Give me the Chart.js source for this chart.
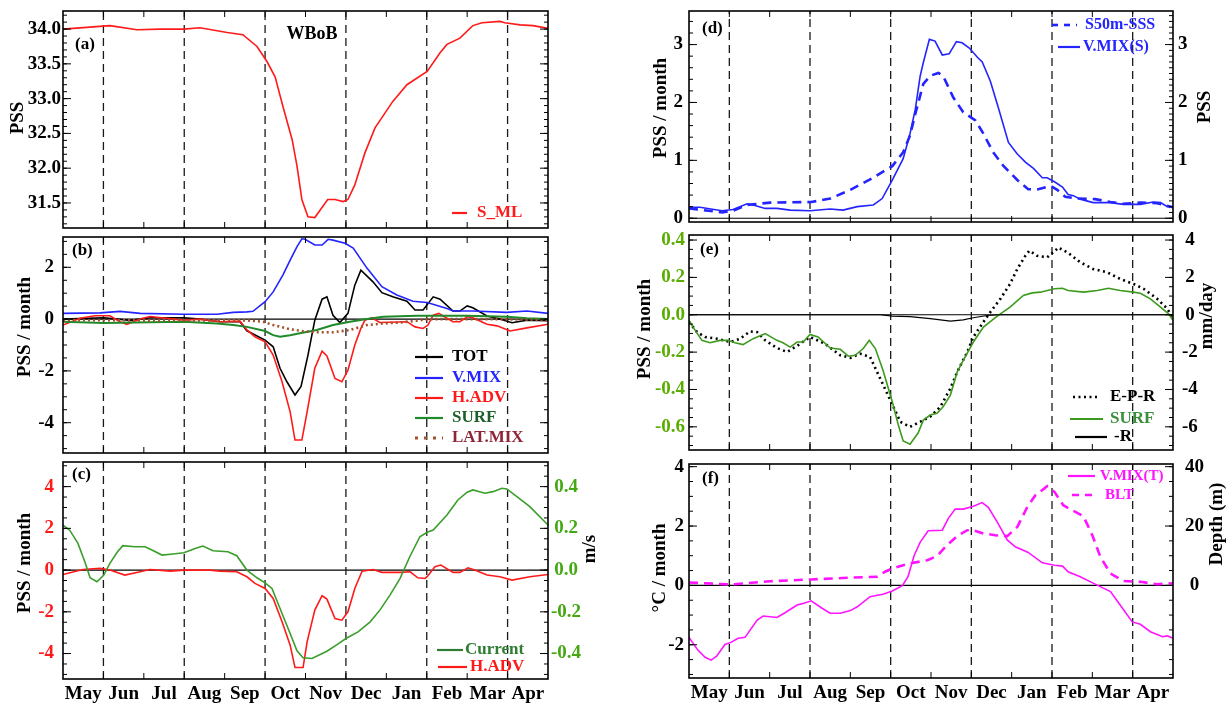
<!DOCTYPE html>
<html><head><meta charset="utf-8">
<script src="https://cdn.jsdelivr.net/npm/chart.js@4/dist/chart.umd.min.js"></script>
<style>
html,body{margin:0;padding:0;background:#fff;}
body{width:1227px;height:705px;position:relative;overflow:hidden;}
canvas{position:absolute;}
</style></head><body>
<script>
// ---------------- DATA ----------------
const MONTHS = ['May','Jun','Jul','Aug','Sep','Oct','Nov','Dec','Jan','Feb','Mar','Apr'];
const MONTH_TICKS = [0.5,1.5,2.5,3.5,4.5,5.5,6.5,7.5,8.5,9.5,10.5,11.5];
const DASH_MONTHS = [1,3,5,7,9,11];

// (a) mixed-layer salinity, [month, PSS]
const aSML = [[0,34.00],[1.16,34.05],[1.83,33.99],[2.40,34.00],[2.99,34.00],[3.39,34.02],[4.06,33.95],[4.45,33.92],[4.80,33.75],[5.05,33.53],[5.25,33.31],[5.44,32.89],[5.67,32.41],[5.79,32.03],[5.91,31.55],[6.06,31.30],[6.23,31.29],[6.55,31.55],[6.73,31.55],[6.93,31.52],[7.05,31.55],[7.22,31.76],[7.47,32.22],[7.72,32.58],[8.16,32.96],[8.51,33.20],[9.01,33.39],[9.33,33.66],[9.50,33.78],[9.82,33.87],[10.14,34.05],[10.37,34.09],[10.81,34.11],[10.93,34.09],[11.31,34.06],[11.63,34.05],[12,34.01]];

// (b) budget terms, PSS/month
const bTOT = [[0,0.0],[1.01,0.05],[1.66,-0.05],[2.15,0.05],[2.99,0.05],[3.39,0.0],[3.88,-0.1],[4.38,-0.1],[4.55,-0.45],[5.00,-0.81],[5.20,-1.07],[5.37,-1.9],[5.54,-2.42],[5.74,-2.93],[5.89,-2.6],[6.06,-1.4],[6.23,-0.04],[6.41,0.77],[6.53,0.86],[6.68,0.15],[6.85,-0.13],[7.05,0.22],[7.22,1.31],[7.37,1.89],[7.67,1.44],[7.89,1.02],[8.16,0.86],[8.51,0.69],[8.71,0.35],[8.91,0.35],[9.16,0.86],[9.33,0.77],[9.65,0.31],[9.82,0.31],[10.0,0.51],[10.14,0.44],[10.49,0.12],[10.81,0.0],[11.11,-0.14],[11.48,-0.04],[12,-0.06]];
const bVMIX = [[0,0.22],[0.92,0.24],[1.41,0.30],[1.91,0.22],[2.99,0.19],[3.81,0.19],[4.21,0.26],[4.55,0.28],[4.70,0.30],[5.00,0.67],[5.20,1.05],[5.44,1.70],[5.62,2.28],[5.79,2.80],[5.91,3.10],[5.99,3.08],[6.23,2.86],[6.41,2.86],[6.56,3.08],[6.68,3.05],[6.98,2.93],[7.18,2.74],[7.52,1.97],[7.89,1.25],[8.26,0.93],[8.66,0.69],[9.01,0.64],[9.50,0.41],[9.65,0.31],[10.14,0.31],[10.98,0.26],[11.48,0.31],[12,0.22]];
const bHADV = [[0,-0.23],[0.42,0.03],[0.79,0.13],[1.16,0.13],[1.41,-0.1],[1.58,-0.2],[1.91,0.0],[2.15,0.1],[2.99,-0.04],[3.39,0.0],[3.88,-0.1],[4.38,-0.08],[4.55,-0.42],[4.75,-0.68],[5.00,-0.88],[5.20,-1.39],[5.42,-2.42],[5.62,-3.58],[5.74,-4.67],[5.91,-4.67],[6.04,-3.58],[6.23,-1.9],[6.41,-1.24],[6.53,-1.42],[6.73,-2.29],[6.90,-2.42],[7.05,-1.97],[7.22,-1.0],[7.37,-0.36],[7.47,-0.04],[7.64,0.05],[7.84,-0.13],[8.51,-0.1],[8.71,-0.3],[8.91,-0.36],[9.03,-0.23],[9.16,0.15],[9.30,0.22],[9.50,0.03],[9.65,-0.1],[9.82,-0.1],[10.0,0.09],[10.14,0.05],[10.49,-0.2],[10.74,-0.26],[11.06,-0.46],[11.48,-0.34],[12,-0.2]];
const bSURF = [[0,-0.1],[1.01,-0.15],[2.15,-0.12],[2.99,-0.1],[3.81,-0.17],[4.21,-0.23],[4.55,-0.3],[5.00,-0.46],[5.20,-0.62],[5.37,-0.68],[5.62,-0.62],[5.86,-0.55],[6.28,-0.42],[6.68,-0.23],[7.10,-0.1],[7.52,0.0],[7.92,0.09],[8.76,0.13],[10.0,0.13],[10.98,0.09],[11.48,0.03],[12,0.0]];
const bLATMIX = [[0,-0.04],[2.15,-0.05],[4.55,-0.05],[4.95,-0.1],[5.20,-0.23],[5.62,-0.39],[5.94,-0.47],[6.36,-0.51],[6.68,-0.51],[7.10,-0.42],[7.52,-0.23],[7.92,-0.17],[8.34,-0.13],[8.76,-0.06],[9.01,0.0],[10.81,0.0],[12,-0.04]];

// (c) horizontal advection (PSS/month) and current (m/s)
const cHADV = [[0,-0.21],[0.49,0.03],[0.92,0.08],[1.16,0.0],[1.53,-0.24],[1.91,-0.08],[2.15,0.03],[2.65,-0.05],[2.99,0.0],[3.64,0.0],[3.88,-0.05],[4.30,-0.08],[4.55,-0.32],[4.75,-0.64],[5.00,-0.88],[5.20,-1.36],[5.42,-2.48],[5.62,-3.6],[5.74,-4.67],[5.94,-4.67],[6.04,-3.44],[6.23,-1.92],[6.41,-1.23],[6.53,-1.39],[6.73,-2.32],[6.90,-2.4],[7.05,-2.0],[7.22,-0.88],[7.40,-0.05],[7.67,0.03],[7.89,-0.11],[8.34,-0.11],[8.59,-0.08],[8.78,-0.37],[8.96,-0.4],[9.03,-0.27],[9.20,0.16],[9.35,0.24],[9.65,-0.11],[9.82,-0.11],[10.02,0.11],[10.19,0.0],[10.49,-0.24],[10.81,-0.32],[11.11,-0.48],[11.55,-0.32],[12,-0.21]];
const cCurrent = [[0,0.216],[0.17,0.19],[0.37,0.128],[0.54,0.04],[0.67,-0.037],[0.84,-0.056],[1.01,-0.024],[1.16,0.032],[1.34,0.085],[1.48,0.117],[1.78,0.112],[2.03,0.112],[2.20,0.096],[2.45,0.072],[2.72,0.077],[2.99,0.083],[3.27,0.104],[3.46,0.115],[3.71,0.093],[4.08,0.088],[4.30,0.069],[4.55,0.0],[4.80,-0.037],[5.00,-0.061],[5.17,-0.088],[5.37,-0.184],[5.62,-0.304],[5.79,-0.387],[5.94,-0.42],[6.16,-0.424],[6.53,-0.389],[6.78,-0.357],[7.00,-0.328],[7.30,-0.296],[7.60,-0.248],[7.84,-0.192],[8.09,-0.12],[8.34,-0.04],[8.58,0.064],[8.83,0.16],[9.01,0.181],[9.16,0.192],[9.50,0.264],[9.77,0.336],[10.0,0.373],[10.14,0.384],[10.44,0.368],[10.64,0.376],[10.86,0.392],[10.98,0.389],[11.23,0.352],[11.55,0.304],[12,0.216]];

// (d) vertical mixing (PSS/month) and S50m-SSS (PSS)
const dVMIX = [[0,0.19],[0.27,0.19],[0.82,0.13],[1.09,0.15],[1.44,0.25],[1.59,0.23],[1.89,0.17],[2.18,0.17],[2.51,0.14],[3.00,0.13],[3.50,0.16],[3.82,0.14],[4.17,0.20],[4.57,0.23],[4.79,0.34],[5.04,0.66],[5.31,1.03],[5.48,1.46],[5.61,1.88],[5.73,2.45],[5.81,2.69],[5.96,3.09],[6.10,3.06],[6.28,2.82],[6.45,2.84],[6.63,3.05],[6.77,3.03],[6.95,2.94],[7.15,2.78],[7.27,2.70],[7.47,2.37],[7.67,1.91],[7.92,1.31],[8.14,1.11],[8.34,0.97],[8.54,0.86],[8.76,0.70],[8.88,0.70],[9.06,0.63],[9.26,0.54],[9.40,0.41],[9.53,0.39],[9.70,0.33],[10.02,0.27],[10.45,0.27],[10.77,0.24],[11.19,0.24],[11.51,0.28],[11.69,0.27],[11.86,0.20],[12,0.19]];
const dS50 = [[0,0.17],[0.82,0.10],[1.09,0.13],[1.44,0.23],[2.01,0.27],[3.03,0.28],[3.50,0.34],[4.00,0.49],[4.49,0.67],[5.04,0.90],[5.31,1.14],[5.48,1.43],[5.61,1.80],[5.81,2.32],[5.98,2.46],[6.18,2.51],[6.30,2.46],[6.55,2.09],[6.80,1.83],[7.10,1.69],[7.30,1.46],[7.54,1.14],[7.79,0.91],[8.14,0.66],[8.41,0.50],[8.66,0.50],[8.96,0.56],[9.13,0.49],[9.33,0.37],[9.63,0.34],[10.07,0.33],[10.45,0.28],[10.77,0.25],[11.19,0.27],[11.61,0.26],[12,0.19]];

// (e) surface flux term (PSS/month), E-P-R and -R (mm/day)
const eSURF = [[0,-0.03],[0.10,-0.066],[0.32,-0.137],[0.52,-0.15],[0.77,-0.137],[0.97,-0.137],[1.14,-0.15],[1.34,-0.16],[1.59,-0.128],[1.89,-0.101],[2.18,-0.137],[2.33,-0.15],[2.51,-0.173],[2.68,-0.146],[2.83,-0.146],[3.00,-0.105],[3.20,-0.119],[3.50,-0.178],[3.75,-0.185],[3.95,-0.222],[4.12,-0.217],[4.32,-0.181],[4.47,-0.137],[4.62,-0.181],[4.81,-0.297],[5.04,-0.466],[5.19,-0.59],[5.31,-0.676],[5.48,-0.693],[5.68,-0.633],[5.81,-0.564],[5.98,-0.537],[6.15,-0.528],[6.30,-0.493],[6.48,-0.43],[6.65,-0.306],[6.80,-0.244],[7.05,-0.146],[7.30,-0.066],[7.54,-0.025],[7.72,0.005],[7.96,0.041],[8.29,0.103],[8.51,0.117],[8.71,0.121],[9.06,0.139],[9.26,0.142],[9.40,0.13],[9.78,0.121],[10.12,0.13],[10.40,0.142],[10.69,0.13],[11.02,0.121],[11.19,0.115],[11.44,0.085],[11.69,0.041],[11.89,0.005],[12,-0.03]];
const eEPR = [[0,-0.39],[0.20,-0.93],[0.40,-1.19],[0.69,-1.28],[1.02,-1.46],[1.27,-1.28],[1.51,-0.89],[1.69,-0.93],[1.89,-1.37],[2.18,-1.78],[2.43,-1.99],[2.68,-1.67],[3.00,-1.19],[3.37,-1.55],[3.75,-2.17],[4.00,-2.31],[4.24,-2.08],[4.49,-2.26],[4.74,-3.41],[4.99,-4.57],[5.24,-5.73],[5.48,-6.0],[5.73,-5.73],[5.98,-5.46],[6.23,-4.93],[6.48,-3.95],[6.65,-3.06],[6.90,-1.99],[7.05,-1.19],[7.27,-0.48],[7.47,0.14],[7.72,0.85],[7.96,1.65],[8.14,2.45],[8.34,3.16],[8.44,3.43],[8.63,3.16],[8.88,3.07],[9.08,3.43],[9.16,3.6],[9.40,3.31],[9.70,2.81],[10.02,2.45],[10.37,2.27],[10.69,1.92],[11.02,1.65],[11.27,1.39],[11.61,0.85],[11.86,0.32],[12,-0.21]];
const eR = [[0,0],[4.74,0],[5.04,-0.07],[5.48,-0.1],[5.98,-0.21],[6.48,-0.34],[6.80,-0.27],[7.05,-0.16],[7.39,-0.04],[7.72,0],[12,0]];

// (f) vertical mixing of temperature (degC/month) and barrier layer thickness (m)
const fVMIXT = [[0,-1.75],[0.22,-2.18],[0.40,-2.42],[0.55,-2.52],[0.69,-2.38],[0.89,-1.99],[1.04,-1.92],[1.22,-1.78],[1.39,-1.75],[1.69,-1.17],[1.84,-1.03],[2.18,-1.08],[2.38,-0.92],[2.68,-0.66],[2.83,-0.61],[3.03,-0.52],[3.30,-0.77],[3.50,-0.94],[3.75,-0.94],[4.00,-0.85],[4.17,-0.72],[4.49,-0.38],[4.67,-0.33],[4.81,-0.3],[5.04,-0.19],[5.29,-0.01],[5.43,0.29],[5.58,1.0],[5.73,1.45],[5.93,1.84],[6.28,1.86],[6.43,2.26],[6.60,2.57],[6.80,2.57],[7.05,2.67],[7.27,2.79],[7.42,2.63],[7.64,2.14],[7.89,1.53],[8.09,1.3],[8.41,1.11],[8.76,0.76],[9.06,0.68],[9.26,0.65],[9.40,0.46],[9.70,0.29],[10.12,0.01],[10.45,-0.21],[10.69,-0.66],[10.99,-1.23],[11.19,-1.31],[11.44,-1.56],[11.74,-1.73],[11.86,-1.7],[12,-1.78]];
const fBLT = [[0,1.0],[1.02,0.3],[2.01,1.4],[3.03,2.0],[4.00,2.6],[4.67,2.9],[4.86,4.6],[5.04,5.7],[5.48,7.4],[5.91,8.5],[6.15,9.9],[6.40,13.6],[6.65,16.6],[6.90,18.6],[7.05,18.6],[7.30,17.5],[7.59,16.9],[7.89,16.6],[8.14,19.7],[8.39,26.5],[8.59,30.4],[8.88,33.4],[9.06,31.5],[9.28,27.0],[9.53,25.1],[9.78,23.3],[10.0,16.9],[10.20,9.6],[10.45,4.0],[10.77,1.5],[11.19,1.2],[11.61,0.4],[12,0.7]];

// tick label values
const aTicks = [31.5,32.0,32.5,33.0,33.5,34.0];
const bTicks = [-4,-2,0,2];
const cTicks = [-4,-2,0,2,4];
const cTicks2 = [-0.4,-0.2,0,0.2,0.4];
const dTicks = [0,1,2,3];
const eTicks = [-0.6,-0.4,-0.2,0,0.2,0.4];
const eTicks2 = [-6,-4,-2,0,2,4];
const fTicks = [-2,0,2,4];
const fTicks2 = [0,20,40];

// ---------------- STYLE ----------------
const FONT = '"Liberation Serif","Times New Roman",serif';
const fnt = s => ({family: FONT, size: s, weight: 'bold'});
const RED = '#ff1a1a', BLUE = '#2424ff', MAG = '#ff14ff';

function ser(pairs, axis, style) {
  return Object.assign({data: pairs.map(p => ({x: p[0], y: p[1]})), yAxisID: axis,
    pointRadius: 0, tension: 0, fill: false, borderWidth: 1.6, borderCapStyle: 'butt'}, style);
}

const idlPlugin = {
  id: 'idl',
  beforeDatasetsDraw(chart, args, o) {
    const {ctx, chartArea: ca} = chart;
    const xs = chart.scales.x, ys = chart.scales.y;
    ctx.save();
    ctx.beginPath(); ctx.rect(ca.left, ca.top, ca.width, ca.height); ctx.clip();
    if (o.zero) {
      const y = ys.getPixelForValue(0);
      ctx.strokeStyle = '#000'; ctx.lineWidth = 1.2;
      ctx.beginPath(); ctx.moveTo(ca.left, y); ctx.lineTo(ca.right, y); ctx.stroke();
    }
    ctx.strokeStyle = '#1a1a1a'; ctx.lineWidth = 1.3; ctx.setLineDash([8, 5]);
    DASH_MONTHS.forEach(m => {
      const x = xs.getPixelForValue(m);
      ctx.beginPath(); ctx.moveTo(x, ca.bottom); ctx.lineTo(x, ca.top); ctx.stroke();
    });
    ctx.restore();
  },
  afterDatasetsDraw(chart, args, o) {
    const {ctx, chartArea: ca} = chart;
    const xs = chart.scales.x, ys = chart.scales.y, y2 = chart.scales.y2;
    const ox = o.ox, oy = o.oy;
    ctx.save();
    ctx.strokeStyle = '#000'; ctx.lineWidth = 1;
    const seg = (a, b, c, d) => { ctx.beginPath(); ctx.moveTo(a, b); ctx.lineTo(c, d); ctx.stroke(); };
    for (let m = 1; m < 12; m++) {
      const x = xs.getPixelForValue(m);
      seg(x, ca.bottom, x, ca.bottom - 6); seg(x, ca.top, x, ca.top + 6);
    }
    const yTicks = (scale, minor, side) => {
      const x0 = side === 'l' ? ca.left : ca.right, dir = side === 'l' ? 1 : -1;
      const k0 = Math.ceil(scale.min / minor - 1e-6), k1 = Math.floor(scale.max / minor + 1e-6);
      for (let k = k0; k <= k1; k++) { const y = scale.getPixelForValue(k * minor); seg(x0, y, x0 + dir * 4, y); }
      scale.ticks.forEach(t => { const y = scale.getPixelForValue(t.value); seg(x0, y, x0 + dir * 8, y); });
    };
    yTicks(ys, o.minor, 'l');
    if (y2) yTicks(y2, o.minor2, 'r'); else yTicks(ys, o.minor, 'r');
    ctx.lineWidth = 1.6;
    ctx.strokeRect(ca.left, ca.top, ca.width, ca.height);
    const txt = t => {
      ctx.save();
      ctx.font = `bold ${t.size || 17}px ${FONT}`;
      ctx.fillStyle = t.color || '#000';
      ctx.textAlign = t.align || 'left';
      ctx.textBaseline = 'middle';
      ctx.translate(t.x - ox, t.y - oy);
      if (t.rot) ctx.rotate(t.rot * Math.PI / 180);
      ctx.fillText(t.text, 0, 0);
      ctx.restore();
    };
    (o.texts || []).forEach(txt);
    (o.legend || []).forEach(l => {
      ctx.save();
      ctx.strokeStyle = l.color; ctx.lineWidth = l.lw || 2.2; ctx.setLineDash(l.dash || []);
      seg(l.x1 - ox, l.y - oy, l.x2 - ox, l.y - oy);
      ctx.restore();
      txt({text: l.text, x: l.tx, y: l.y, color: l.tcolor || l.color, size: l.size || 17});
    });
    ctx.restore();
  }
};

function yAxis(pos, min, max, ticks, fmt, width, pad, color, align) {
  return {
    type: 'linear', position: pos, min, max, display: true,
    afterBuildTicks: s => { s.ticks = ticks.map(v => ({value: v})); },
    ticks: {autoSkip: false, font: fnt(19), color, padding: pad, crossAlign: align || 'near', callback: v => fmt(v)},
    grid: {display: false, drawTicks: false}, border: {display: false},
    afterFit: s => { s.width = width; s.paddingTop = 0; s.paddingBottom = 0; }
  };
}
function xAxis(show, height) {
  const ax = {type: 'linear', min: 0, max: 12, display: show,
    grid: {display: false, drawTicks: false}, border: {display: false}};
  if (show) {
    ax.afterBuildTicks = s => { s.ticks = MONTH_TICKS.map(v => ({value: v})); };
    ax.ticks = {autoSkip: false, maxRotation: 0, minRotation: 0, font: fnt(19), color: '#000', padding: 4,
      callback: (v, i) => MONTHS[i]};
    ax.afterFit = s => { s.height = height; s.paddingLeft = 0; s.paddingRight = 0; };
  }
  return ax;
}
function makeChart(g, scales, datasets, opts) {
  const cv = document.createElement('canvas');
  cv.width = g.w; cv.height = g.h;
  cv.style.left = g.x + 'px'; cv.style.top = g.y + 'px';
  cv.style.width = g.w + 'px'; cv.style.height = g.h + 'px';
  document.body.appendChild(cv);
  opts.ox = g.x; opts.oy = g.y;
  return new Chart(cv, {
    type: 'line',
    data: {datasets},
    options: {responsive: false, animation: false, events: [],
      layout: {padding: g.pad},
      plugins: {legend: {display: false}, tooltip: {enabled: false}, idl: opts},
      scales},
    plugins: [idlPlugin]
  });
}
const f1 = v => v.toFixed(1), f0 = v => String(v);

// (a)
makeChart({x: 0, y: 0, w: 615, h: 232, pad: {top: 11, bottom: 4, left: 0, right: 67}},
  {x: xAxis(false), y: yAxis('left', 31.14, 34.26, aTicks, f1, 63, 2, '#000')},
  [ser(aSML, 'y', {borderColor: RED})],
  {minor: 0.1, zero: false,
   texts: [{text: '(a)', x: 75, y: 45}, {text: 'WBoB', x: 312, y: 34, align: 'center', size: 18},
           {text: 'PSS', x: 18, y: 118, rot: -90, align: 'center', size: 19}],
   legend: [{text: 'S_ML', color: RED, x1: 452, x2: 467, y: 213, tx: 477}]});

// (b)
makeChart({x: 0, y: 230, w: 615, h: 226, pad: {top: 7, bottom: 3, left: 0, right: 67}},
  {x: xAxis(false), y: yAxis('left', -5.17, 3.17, bTicks, f0, 63, 9, '#000')},
  [ser(bLATMIX, 'y', {borderColor: '#a4502a', borderWidth: 2.6, borderDash: [2, 3]}),
   ser(bSURF, 'y', {borderColor: '#1f8a2a', borderWidth: 2}),
   ser(bHADV, 'y', {borderColor: RED}),
   ser(bVMIX, 'y', {borderColor: BLUE}),
   ser(bTOT, 'y', {borderColor: '#000'})],
  {minor: 0.5, zero: true,
   texts: [{text: '(b)', x: 72, y: 251}, {text: 'PSS / month', x: 25, y: 327, rot: -90, align: 'center', size: 19}],
   legend: [
     {text: 'TOT', color: '#000', x1: 415, x2: 443, y: 357, tx: 452},
     {text: 'V.MIX', color: BLUE, x1: 415, x2: 443, y: 378, tx: 452},
     {text: 'H.ADV', color: RED, x1: 415, x2: 443, y: 398, tx: 452},
     {text: 'SURF', color: '#1f8a2a', tcolor: '#1d5e2c', x1: 415, x2: 443, y: 418, tx: 452},
     {text: 'LAT.MIX', color: '#a4502a', tcolor: '#8e2536', lw: 2.8, dash: [3, 6], x1: 415, x2: 443, y: 438, tx: 452}]});

// (c)
makeChart({x: 0, y: 456, w: 615, h: 249, pad: {top: 6, bottom: 0, left: 0, right: 0}},
  {x: xAxis(true, 26),
   y: yAxis('left', -5.22, 5.18, cTicks, f0, 63, 9, '#ff1a1a'),
   y2: yAxis('right', -0.522, 0.518, cTicks2, f1, 67, 3, '#44a812', 'center')},
  [ser(cCurrent, 'y2', {borderColor: '#3a9e2a'}),
   ser(cHADV, 'y', {borderColor: RED})],
  {minor: 0.5, minor2: 0.05, zero: true,
   texts: [{text: '(c)', x: 72, y: 475},
           {text: 'PSS / month', x: 25, y: 563, rot: -90, align: 'center', size: 19},
           {text: 'm/s', x: 590, y: 549, rot: -90, align: 'center', size: 19}],
   legend: [
     {text: 'Current', color: '#2e7d32', x1: 437, x2: 463, y: 650, tx: 465},
     {text: 'H.ADV', color: RED, x1: 438, x2: 467, y: 667, tx: 470}]});

// (d)
makeChart({x: 615, y: 0, w: 612, h: 228, pad: {top: 11, bottom: 6, left: 0, right: 0}},
  {x: xAxis(false),
   y: yAxis('left', -0.065, 3.58, dTicks, f0, 74, 6, '#000'),
   y2: yAxis('right', -0.065, 3.58, dTicks, f0, 54, 5, '#000', 'near')},
  [ser(dS50, 'y2', {borderColor: BLUE, borderWidth: 2.6, borderDash: [9, 6]}),
   ser(dVMIX, 'y', {borderColor: BLUE})],
  {minor: 0.2, minor2: 0.1, zero: true,
   texts: [{text: '(d)', x: 702, y: 29},
           {text: 'PSS / month', x: 661, y: 108, rot: -90, align: 'center', size: 19},
           {text: 'PSS', x: 1205, y: 107, rot: -90, align: 'center', size: 19}],
   legend: [
     {text: 'S50m-SSS', color: BLUE, lw: 2.6, dash: [6, 6], x1: 1052, x2: 1077, y: 25, tx: 1085, size: 16},
     {text: 'V.MIX(S)', color: BLUE, x1: 1058, x2: 1080, y: 47, tx: 1083, size: 16}]});

// (e)
makeChart({x: 615, y: 228, w: 612, h: 225, pad: {top: 7, bottom: 3, left: 0, right: 0}},
  {x: xAxis(false),
   y: yAxis('left', -0.724, 0.427, eTicks, f1, 74, 4, '#58ad00'),
   y2: yAxis('right', -7.24, 4.27, eTicks2, f0, 54, 9, '#000', 'center')},
  [ser(eR, 'y2', {borderColor: '#000', borderWidth: 1.2}),
   ser(eSURF, 'y', {borderColor: '#3c9a1c'}),
   ser(eEPR, 'y2', {borderColor: '#000', borderWidth: 2.6, borderDash: [2, 3.5]})],
  {minor: 0.05, minor2: 0.5, zero: true,
   texts: [{text: '(e)', x: 700, y: 250},
           {text: 'PSS / month', x: 645, y: 329, rot: -90, align: 'center', size: 19},
           {text: 'mm/day', x: 1207, y: 316, rot: -90, align: 'center', size: 19}],
   legend: [
     {text: 'E-P-R', color: '#000', lw: 2.6, dash: [2, 3.5], x1: 1073, x2: 1100, y: 397, tx: 1110},
     {text: 'SURF', color: '#3c9a1c', tcolor: '#3b8f3b', x1: 1070, x2: 1103, y: 419, tx: 1110},
     {text: '-R', color: '#000', x1: 1075, x2: 1107, y: 437, tx: 1114}]});

// (f)
makeChart({x: 615, y: 453, w: 612, h: 252, pad: {top: 11, bottom: 0, left: 0, right: 0}},
  {x: xAxis(true, 27),
   y: yAxis('left', -3.12, 4.09, fTicks, f0, 74, 5, '#000'),
   y2: yAxis('right', -31.2, 40.9, fTicks2, f0, 54, 12, '#000', 'center')},
  [ser(fBLT, 'y2', {borderColor: MAG, borderWidth: 2.6, borderDash: [9, 6]}),
   ser(fVMIXT, 'y', {borderColor: MAG})],
  {minor: 0.5, minor2: 5, zero: true,
   texts: [{text: '(f)', x: 702, y: 479},
           {text: '°C / month', x: 660, y: 568, rot: -90, align: 'center', size: 19},
           {text: 'Depth (m)', x: 1217, y: 524, rot: -90, align: 'center', size: 19}],
   legend: [
     {text: 'V.MIX(T)', color: MAG, x1: 1068, x2: 1095, y: 476, tx: 1100, size: 15},
     {text: 'BLT', color: MAG, lw: 2.6, dash: [7, 6], x1: 1072, x2: 1098, y: 495, tx: 1105, size: 15}]});
</script>
</body></html>
